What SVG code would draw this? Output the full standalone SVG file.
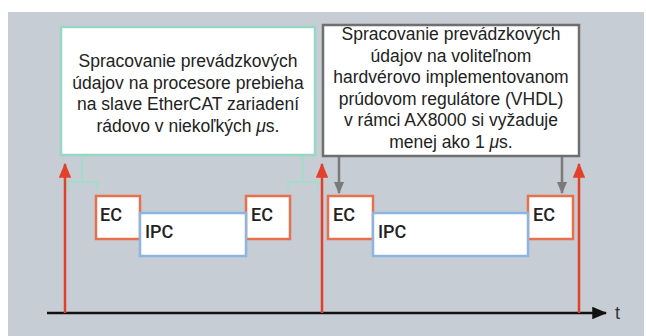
<svg xmlns="http://www.w3.org/2000/svg" width="646" height="336" viewBox="0 0 646 336">
  <defs>
    <style>
      .note { font-family: "Liberation Sans", Arial, sans-serif; font-size: 17.5px; fill: #222; text-anchor: middle; }
      .lbl { font-family: Roboto, "Open Sans", "Liberation Sans", sans-serif; font-size: 18px; font-weight: 500; fill: #222; }
      .ec { fill: #fff; stroke: #e8704c; stroke-width: 2.5; }
      .ipc { fill: #fff; stroke: #8db5e2; stroke-width: 2.5; }
      .sync { stroke: #e2402a; stroke-width: 2.5; fill: none; }
      .ptr { stroke: #7a7a7a; stroke-width: 2.5; fill: none; }
      .brace { stroke: #a3dcc8; stroke-width: 2; fill: none; }
    </style>
    <marker id="redHead" viewBox="0 0 12 10" refX="11" refY="5" markerWidth="6" markerHeight="5" orient="auto" markerUnits="strokeWidth">
      <path d="M0,0 L12,5 L0,10 Z" fill="#e2402a"/>
    </marker>
    <marker id="grayHead" viewBox="0 0 12 10" refX="11" refY="5" markerWidth="5" markerHeight="4.4" orient="auto" markerUnits="strokeWidth">
      <path d="M0,0 L12,5 L0,10 Z" fill="#7a7a7a"/>
    </marker>
    <marker id="axisHead" viewBox="0 0 12 10" refX="11" refY="5" markerWidth="6" markerHeight="5" orient="auto" markerUnits="strokeWidth">
      <path d="M0,0 L12,5 L0,10 Z" fill="#111"/>
    </marker>
  </defs>

  <!-- panel background -->
  <rect x="8" y="12" width="636" height="324" fill="#c6cdd5"/>

  <!-- cycle timing blocks: EC frames under the IPC block -->
  <g id="ec1"><rect class="ec" x="96" y="196" width="44" height="43"/><text class="lbl" x="100" y="221">EC</text></g>
  <g id="ec2"><rect class="ec" x="246" y="196" width="44" height="43"/><text class="lbl" x="251" y="221">EC</text></g>
  <g id="ipc1"><rect class="ipc" x="140" y="213" width="106" height="43"/><text class="lbl" x="145" y="238">IPC</text></g>

  <g id="ec3"><rect class="ec" x="328" y="196" width="45" height="43"/><text class="lbl" x="333" y="221">EC</text></g>
  <g id="ec4"><rect class="ec" x="528" y="196" width="45" height="43"/><text class="lbl" x="533" y="221">EC</text></g>
  <g id="ipc2"><rect class="ipc" x="373" y="213" width="155" height="43"/><text class="lbl" x="378" y="238">IPC</text></g>

  <!-- note boxes -->
  <g id="note-cpu">
    <rect x="61" y="27" width="254" height="128" fill="#fff" stroke="#97d6c2" stroke-width="2.5"/>
    <text class="note" x="188" y="67">Spracovanie prevádzkových</text>
    <text class="note" x="188" y="88.5">údajov na procesore prebieha</text>
    <text class="note" x="188" y="110">na slave EtherCAT zariadení</text>
    <text class="note" x="188" y="131.5">rádovo v niekoľkých <tspan font-style="italic">μ</tspan>s.</text>
  </g>
  <g id="note-vhdl">
    <rect x="323" y="25" width="256" height="131" fill="#fff" stroke="#6f6f6f" stroke-width="2.5"/>
    <text class="note" x="451" y="40">Spracovanie prevádzkových</text>
    <text class="note" x="451" y="61.5">údajov na voliteľnom</text>
    <text class="note" x="451" y="83">hardvérovo implementovanom</text>
    <text class="note" x="451" y="104.5">prúdovom regulátore (VHDL)</text>
    <text class="note" x="451" y="126">v rámci AX8000 si vyžaduje</text>
    <text class="note" x="451" y="147.5">menej ako 1 <tspan font-style="italic">μ</tspan>s.</text>
  </g>

  <!-- connectors -->
  <g id="connectors">
    <path class="brace" d="M68,190 L68,182 L82,182 L82,156 M82,182 L97,182 L97,190"/>
    <path class="brace" d="M288,190 L288,182 L303,182 L303,156 M303,182 L318,182 L318,190"/>
    <line class="ptr" x1="339" y1="157" x2="339" y2="193" marker-end="url(#grayHead)"/>
    <line class="ptr" x1="562" y1="157" x2="562" y2="193" marker-end="url(#grayHead)"/>
    <line x1="47" y1="313" x2="606" y2="313" stroke="#111" stroke-width="2.5" marker-end="url(#axisHead)"/>
    <line class="sync" x1="65" y1="313" x2="65" y2="164" marker-end="url(#redHead)"/>
    <line class="sync" x1="322" y1="313" x2="322" y2="164" marker-end="url(#redHead)"/>
    <line class="sync" x1="579" y1="313" x2="579" y2="164" marker-end="url(#redHead)"/>
  </g>
  <text x="615" y="319" font-family="Liberation Sans, Arial, sans-serif" font-size="18" fill="#333">t</text>
</svg>
